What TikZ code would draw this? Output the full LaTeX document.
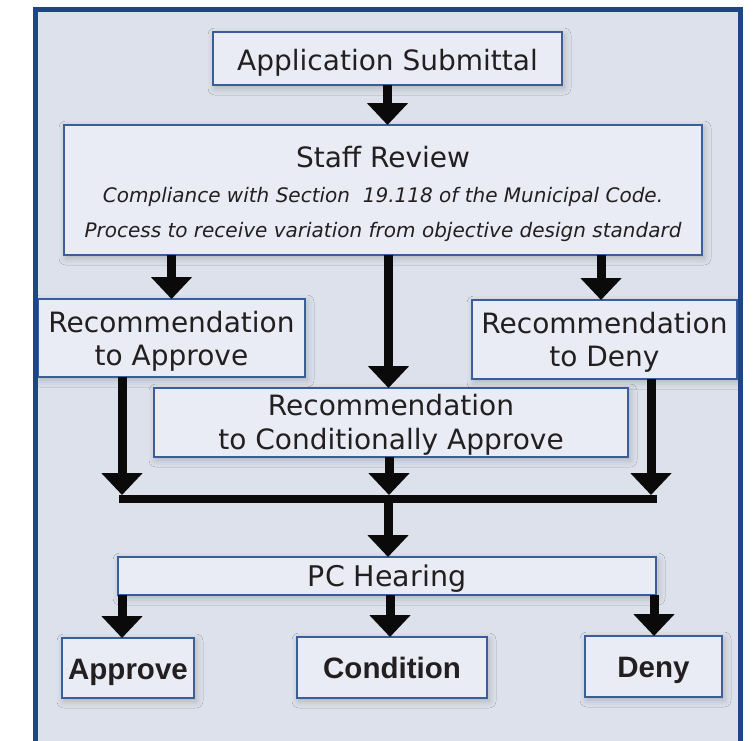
\documentclass[tikz,border=0pt]{standalone}
\usepackage{fontspec}
\setmainfont{DejaVu Sans}
\newfontfamily\boldf{Liberation Sans}
\usetikzlibrary{arrows.meta,shadows.blur}
\definecolor{framefill}{HTML}{DCE1EB}
\definecolor{frameline}{HTML}{1F4589}
\definecolor{boxfill}{HTML}{E9ECF4}
\definecolor{boxline}{HTML}{3A5E9C}
\definecolor{textc}{HTML}{231F20}
\definecolor{arrc}{HTML}{0A0A0A}
\begin{document}
\begin{tikzpicture}[x=1pt,y=-1pt,
  box/.style={draw=boxline, line width=1.4pt, fill=boxfill,
    blur shadow={shadow xshift=2pt, shadow yshift=-3pt, shadow blur radius=7pt, shadow opacity=22},
    inner sep=0pt, outer sep=0pt},
  txt/.style={text=textc, inner sep=0pt, anchor=base, font=\fontsize{28}{33}\selectfont},
  itx/.style={text=textc, inner sep=0pt, anchor=base, font=\fontsize{20}{24}\selectfont\itshape},
  bld/.style={text=textc, inner sep=0pt, anchor=base, font=\fontsize{29.5}{34}\selectfont\boldf\bfseries},
  arr/.style={draw=arrc, line width=9pt, -{Triangle[width=40pt,length=22pt]}},
  barline/.style={draw=arrc, line width=8.5pt}]
\useasboundingbox (0,0) rectangle (755,740);
\begin{scope}
\clip (0,0) rectangle (755,740);
\fill[white] (0,0) rectangle (755,740);
\fill[framefill] (35.5,9.5) rectangle (740,760);
\end{scope}

% boxes
\node[box, minimum width=349, minimum height=53] (app) at (387.5,58.5) {};
\node[box, minimum width=638, minimum height=130] (staff) at (383,190) {};
\node[box, minimum width=267, minimum height=78] (recA) at (171.5,338) {};
\node[box, minimum width=265, minimum height=79] (recD) at (604.5,339.5) {};
\node[box, minimum width=474, minimum height=69] (cond) at (391,422.5) {};
\node[box, minimum width=538, minimum height=38] (pc) at (387,576) {};
\node[box, minimum width=132, minimum height=60] (approve) at (128,668) {};
\node[box, minimum width=190, minimum height=61] (condition) at (392,667.5) {};
\node[box, minimum width=137, minimum height=61] (deny) at (653.5,666.5) {};

% texts
\node[txt] (appT) at (387.5,70) {Application Submittal};
\node[txt] (staffT) at (383,167) {Staff Review};
\node[itx] (staffI1) at (383,202) {Compliance with Section\ \ 19.118 of the Municipal Code.};
\node[itx] (staffI2) at (383,237) {Process to receive variation from objective design standard};
\node[txt] (recAT1) at (171.5,332) {Recommendation};
\node[txt] (recAT2) at (171.5,365) {to Approve};
\node[txt] (recDT1) at (604.5,333) {Recommendation};
\node[txt] (recDT2) at (604.5,366) {to Deny};
\node[txt] (condT1) at (391,415) {Recommendation};
\node[txt] (condT2) at (391,449) {to Conditionally Approve};
\node[txt, font=\fontsize{28.5}{33}\selectfont] (pcT) at (387,586) {PC Hearing};
\node[bld] (approveT) at (128,679) {Approve};
\node[bld] (conditionT) at (392,678) {Condition};
\node[bld] (denyT) at (653.5,677) {Deny};

% junction bar
\coordinate (barL) at (119,499);
\coordinate (barR) at (657,499);
\coordinate (jA) at (122,495);
\coordinate (jC) at (389,495);
\coordinate (jD) at (651,495);
\coordinate (jM) at (388,503);
\draw[barline] (barL) -- (barR);

% connectors
\draw[arr] (app.south) -- (app.south |- staff.north);
\draw[arr] (recA.north |- staff.south) -- (recA.north);
\draw[arr] ([xshift=1pt]app.south |- staff.south) -- ([xshift=1pt]app.south |- cond.north);
\draw[arr] ([xshift=-3.5pt]recD.north |- staff.south) -- ([xshift=-3.5pt]recD.north);
\draw[arr] (recA.south -| jA) -- (jA);
\draw[arr] (cond.south -| jC) -- (jC);
\draw[arr] (recD.south -| jD) -- (jD);
\draw[arr] (jM) -- (jM |- pc.north);
\draw[arr] (pc.south -| jA) -- (jA |- approve.north);
\draw[arr] ([xshift=-2pt]condition.north |- pc.south) -- ([xshift=-2pt]condition.north);
\draw[arr] ([xshift=0.5pt]deny.north |- pc.south) -- ([xshift=0.5pt]deny.north);

% frame outline on top, white outside
\begin{scope}
\clip (0,0) rectangle (755,740);
\fill[white] (742.5,0) rectangle (755,740);
\draw[draw=frameline, line width=5pt] (35.5,9.5) rectangle (740,760);
\end{scope}
\end{tikzpicture}
\end{document}
